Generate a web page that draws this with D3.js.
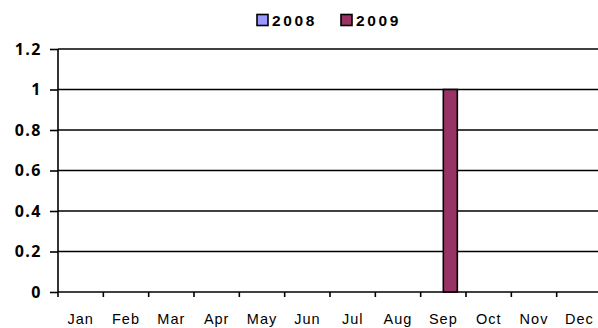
<!DOCTYPE html>
<html><head><meta charset="utf-8">
<script src="https://cdn.jsdelivr.net/npm/d3@7"></script>
<style>body{margin:0;background:#fff}svg{display:block}</style>
</head><body>
<svg id="c" width="598" height="328"></svg>
<script>
const months = ["Jan","Feb","Mar","Apr","May","Jun","Jul","Aug","Sep","Oct","Nov","Dec"];
const seriesNames = ["2008","2009"];
const values2008 = [0,0,0,0,0,0,0,0,0,0,0,0];
const values2009 = [0,0,0,0,0,0,0,0,1,0,0,0];
const colors = ["#9999ff","#993366"];
const yTicks = [0,0.2,0.4,0.6,0.8,1,1.2];

const svg = d3.select("#c");
const plotLeft = 58, plotRight = 602, plotTop = 49, plotBottom = 292;

const x = d3.scaleBand().domain(months).range([plotLeft, plotRight]).paddingInner(0).paddingOuter(0);
const x1 = d3.scaleBand().domain(seriesNames).range([0, x.bandwidth()]).paddingInner(0).paddingOuter(0.62);
const y = d3.scaleLinear().domain([0, 1.2]).range([plotBottom, plotTop]);

// horizontal gridlines
svg.append("g").selectAll("line").data(yTicks).join("line")
  .attr("x1", plotLeft).attr("x2", 598)
  .attr("y1", d => y(d)).attr("y2", d => y(d))
  .attr("stroke", "#000").attr("stroke-width", 1.6);

// bars, one group per series (zero values leave no visible bar)
const series = [values2008, values2009];
series.forEach((vals, si) => {
  svg.append("g").selectAll("rect")
    .data(vals.map((v, i) => ({m: months[i], v})).filter(d => d.v > 0))
    .join("rect")
    .attr("x", d => x(d.m) + x1(seriesNames[si]))
    .attr("y", d => y(d.v))
    .attr("width", x1.bandwidth())
    .attr("height", d => y(0) - y(d.v))
    .attr("fill", colors[si]).attr("stroke", "#000").attr("stroke-width", 1.6);
});

// y axis
const yAxis = svg.append("g").attr("transform", `translate(${plotLeft},0)`)
  .call(d3.axisLeft(y).tickValues(yTicks).tickSize(8).tickPadding(8).tickFormat(d => d3.format("")(d)));
yAxis.select(".domain").attr("d", `M0,${plotTop}V${plotBottom + 5}`).attr("stroke-width", 1.6);
yAxis.selectAll(".tick line").attr("stroke-width", 1.6);
yAxis.selectAll("text").attr("font-family", "Open Sans, sans-serif").attr("font-weight", "bold")
  .attr("font-size", 16).attr("letter-spacing", 1.5).attr("fill", "#000");

// x axis ticks at band boundaries
const xAxis = svg.append("g").attr("transform", `translate(0,${plotBottom})`);
xAxis.selectAll("line").data(months.slice(1)).join("line")
  .attr("x1", d => x(d)).attr("x2", d => x(d)).attr("y1", 0).attr("y2", 5)
  .attr("stroke", "#000").attr("stroke-width", 1.6);
xAxis.selectAll("text").data(months).join("text")
  .attr("x", d => x(d) + x.bandwidth() / 2).attr("y", 32)
  .attr("text-anchor", "middle")
  .attr("font-family", "Liberation Sans, Arial, sans-serif").attr("font-size", 14.5)
  .attr("letter-spacing", 1).text(d => d);

// legend
const lg = svg.append("g").attr("transform", "translate(257,14)");
const items = [{n: "2008", c: colors[0], x: 0}, {n: "2009", c: colors[1], x: 84}];
items.forEach(it => {
  lg.append("rect").attr("x", it.x).attr("y", 0.5).attr("width", 11).attr("height", 11)
    .attr("fill", it.c).attr("stroke", "#000").attr("stroke-width", 1.6);
  lg.append("text").attr("x", it.x + 15).attr("y", 11.7)
    .attr("font-family", "Liberation Sans, Arial, sans-serif").attr("font-weight", "bold")
    .attr("font-size", 15.5).attr("letter-spacing", 2.6).text(it.n);
});
</script>
</body></html>
